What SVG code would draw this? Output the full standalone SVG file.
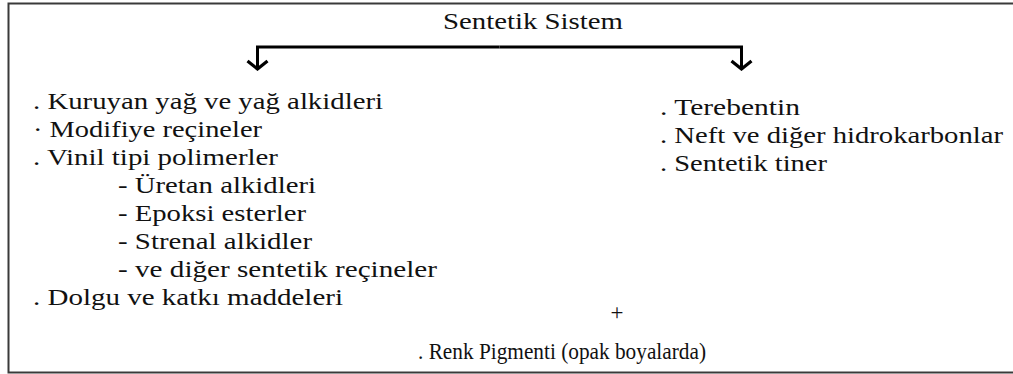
<svg xmlns="http://www.w3.org/2000/svg" width="1013" height="374" viewBox="0 0 1013 374">
<style>
.t{font-family:"Liberation Serif","Times New Roman",serif;font-size:23px;fill:#111;}
.conn{fill:none;stroke:#000;stroke-width:3;}
</style>
<defs>
<marker id="chev" markerUnits="userSpaceOnUse" viewBox="-12 -12 14 24" refX="0" refY="0" markerWidth="14" markerHeight="24" orient="auto">
<path d="M-8,-10 L0,0 L-8,10" fill="none" stroke="#000" stroke-width="3.2" stroke-linejoin="miter"/>
</marker>
</defs>
<rect x="8.5" y="3.5" width="1020" height="369" fill="#fff" stroke="#3a3a3a" stroke-width="2"/>
<g id="connectors">
<path class="conn" d="M499.5,47 H257.5 V69" marker-end="url(#chev)"/>
<path class="conn" d="M499.5,47 H741.5 V69" marker-end="url(#chev)"/>
</g>
<g id="title"><text class="t" x="443" y="29" textLength="180" lengthAdjust="spacingAndGlyphs">Sentetik Sistem</text></g>
<g id="left-list">
<text class="t" x="33" y="109" textLength="350" lengthAdjust="spacingAndGlyphs">. Kuruyan yağ ve yağ alkidleri</text>
<text class="t" x="33" y="137" textLength="229" lengthAdjust="spacingAndGlyphs">· Modifiye reçineler</text>
<text class="t" x="33" y="165" textLength="245" lengthAdjust="spacingAndGlyphs">. Vinil tipi polimerler</text>
<text class="t" x="118" y="193" textLength="198" lengthAdjust="spacingAndGlyphs">- Üretan alkidleri</text>
<text class="t" x="118" y="221" textLength="188" lengthAdjust="spacingAndGlyphs">- Epoksi esterler</text>
<text class="t" x="118" y="249" textLength="194" lengthAdjust="spacingAndGlyphs">- Strenal alkidler</text>
<text class="t" x="118" y="277" textLength="319" lengthAdjust="spacingAndGlyphs">- ve diğer sentetik reçineler</text>
<text class="t" x="33" y="305" textLength="310" lengthAdjust="spacingAndGlyphs">. Dolgu ve katkı maddeleri</text>
</g>
<g id="right-list">
<text class="t" x="660" y="115" textLength="140" lengthAdjust="spacingAndGlyphs">. Terebentin</text>
<text class="t" x="660" y="143" textLength="343" lengthAdjust="spacingAndGlyphs">. Neft ve diğer hidrokarbonlar</text>
<text class="t" x="660" y="171" textLength="167" lengthAdjust="spacingAndGlyphs">. Sentetik tiner</text>
</g>
<g id="plus"><text class="t" x="617" y="320" text-anchor="middle">+</text></g>
<g id="pigment"><text class="t" x="418" y="359" textLength="288" lengthAdjust="spacingAndGlyphs">. Renk Pigmenti (opak boyalarda)</text></g>
</svg>
